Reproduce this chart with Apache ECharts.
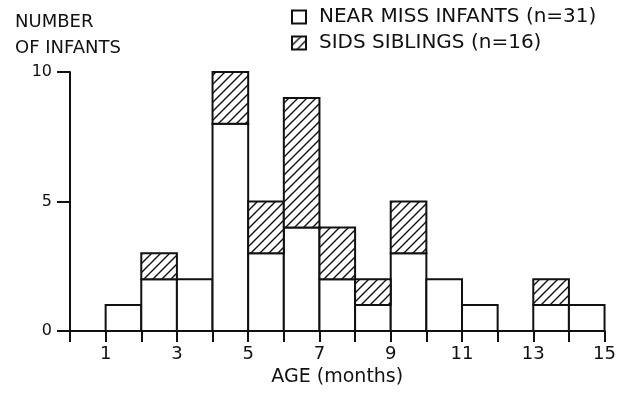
<!DOCTYPE html>
<html>
<head>
<meta charset="utf-8">
<script src="https://cdn.jsdelivr.net/npm/echarts@6/dist/echarts.min.js"></script>
<style>html,body{margin:0;padding:0;background:#fff}#c{width:619px;height:399px}</style>
</head>
<body>
<div id="c"></div>
<script>
// Bins of one month each: bin i covers age i .. i+1 months
var binStarts = [0,1,2,3,4,5,6,7,8,9,10,11,12,13,14];
var nearMiss = [0,1,2,2,8,3,4,2,1,3,2,1,0,1,1];
var sidsSiblings = [0,0,1,0,2,2,5,2,1,2,0,0,0,1,0];
var xTickLabels = ['1','3','5','7','9','11','13','15'];

var FONT = 'DejaVu Sans';
var INK = '#111';

// diagonal hatch pattern
function hatch(){
  var c = document.createElement('canvas');
  var s = 9; c.width = s; c.height = s;
  var g = c.getContext('2d');
  g.fillStyle = '#fff'; g.fillRect(0,0,s,s);
  g.strokeStyle = INK; g.lineWidth = 1.4;
  g.beginPath();
  g.moveTo(-1, s+1); g.lineTo(s+1, -1);
  g.moveTo(-1, 1); g.lineTo(1, -1);
  g.moveTo(s-1, s+1); g.lineTo(s+1, s-1);
  g.stroke();
  return {image:c, repeat:'repeat'};
}
var hatchFill = hatch();

function bars(bottomArr, valueArr){
  return binStarts.map(function(x,i){
    var b = bottomArr ? bottomArr[i] : 0;
    return [x, b, b + valueArr[i], valueArr[i]];
  });
}
function renderBar(params, api){
  var h = api.value(3);
  if (!h) return null;
  var x0 = api.value(0);
  var p0 = api.coord([x0, api.value(1)]);
  var p1 = api.coord([x0 + 1, api.value(2)]);
  return {
    type:'rect',
    shape:{x:p0[0], y:p1[1], width:p1[0]-p0[0], height:p0[1]-p1[1]},
    style:api.style()
  };
}

var chart = echarts.init(document.getElementById('c'), null, {renderer:'canvas'});
chart.setOption({
  backgroundColor:'#fff',
  animation:false,
  title:{
    text:'NUMBER\nOF INFANTS',
    left:10, top:4,
    textStyle:{fontFamily:FONT,fontSize:18,fontWeight:'normal',color:INK,lineHeight:26}
  },
  legend:{
    orient:'vertical',
    left:286, top:1,
    icon:'rect',
    itemWidth:14, itemHeight:13, itemGap:4,
    textStyle:{fontFamily:FONT,fontSize:20,color:INK,padding:[0,0,0,8],lineHeight:22},
    data:['NEAR MISS INFANTS (n=31)','SIDS SIBLINGS (n=16)']
  },
  grid:{left:70,right:12,top:72,bottom:68},
  xAxis:{type:'value',min:0,max:15,interval:1,
     name:'AGE (months)',nameLocation:'middle',nameGap:36,
     nameTextStyle:{fontFamily:FONT,fontSize:19,color:INK},
     axisLine:{show:true,onZero:false,lineStyle:{color:INK,width:2}},
     axisTick:{show:true,inside:false,length:11,lineStyle:{color:INK,width:2}},
     axisLabel:{margin:14,fontFamily:FONT,fontSize:18,color:INK,
       formatter:function(v){ var s=String(v); return xTickLabels.indexOf(s)>=0 ? s : ''; }},
     splitLine:{show:false}},
  yAxis:{type:'value',min:0,max:10,interval:5,
    axisLine:{show:true,lineStyle:{color:INK,width:2}},
    axisTick:{show:true,inside:false,length:13,lineStyle:{color:INK,width:2}},
    axisLabel:{margin:18,fontFamily:FONT,fontSize:16,color:INK},
    splitLine:{show:false}},
  series:[
    {name:'NEAR MISS INFANTS (n=31)',type:'custom',renderItem:renderBar,
     encode:{x:0,y:[1,2]},data:bars(null, nearMiss),
     itemStyle:{color:'#fff',borderColor:INK,borderWidth:2}},
    {name:'SIDS SIBLINGS (n=16)',type:'custom',renderItem:renderBar,
     encode:{x:0,y:[1,2]},data:bars(nearMiss, sidsSiblings),
     itemStyle:{color:hatchFill,borderColor:INK,borderWidth:2}}
  ]
});
</script>
</body>
</html>
